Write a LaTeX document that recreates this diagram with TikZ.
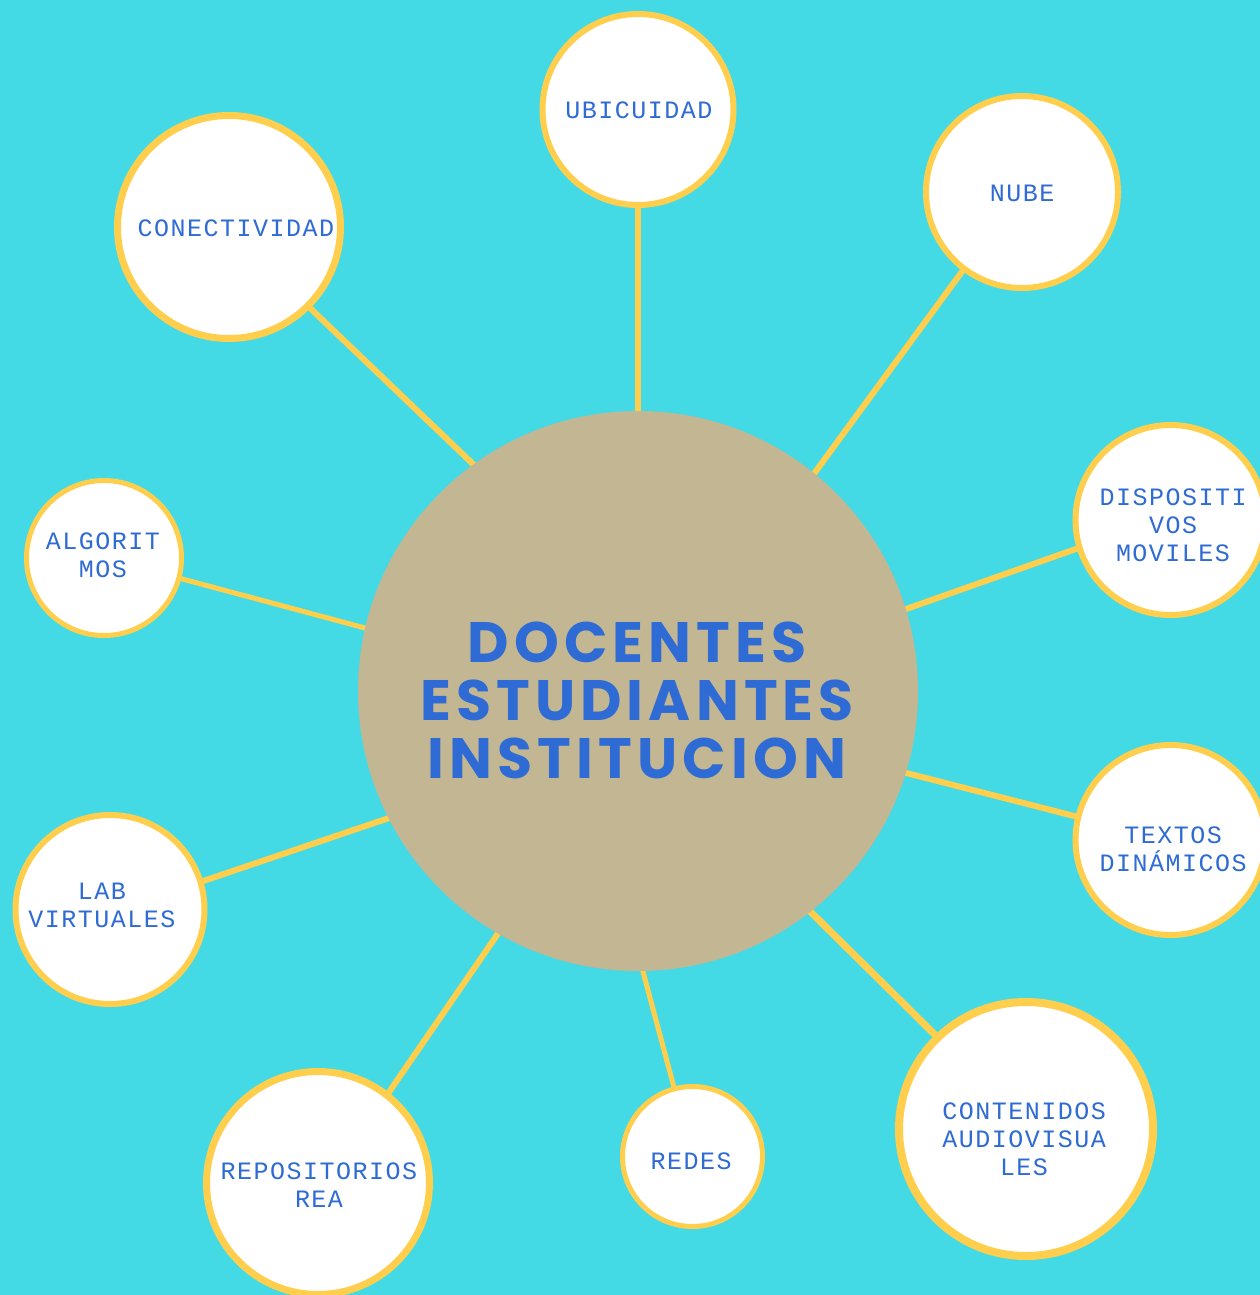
\documentclass[tikz,border=0pt]{standalone}
\usepackage{fontspec}
\newfontfamily\satfont[LetterSpace=6]{Liberation Mono}
\newfontfamily\cenfont[LetterSpace=9]{Poppins}
\definecolor{bgcyan}{HTML}{43DAE5}
\definecolor{ringyellow}{HTML}{FFCE4C}
\definecolor{hubtan}{HTML}{C2B693}
\definecolor{txtblue}{HTML}{2F6BD4}
\pgfdeclarelayer{bg}
\pgfdeclarelayer{lines}
\pgfsetlayers{bg,lines,main}
\begin{document}
\begin{tikzpicture}[x=1pt,y=-1pt,
  sat/.style={circle, draw=ringyellow, fill=white, inner sep=0pt},
  lbl/.style={text=txtblue, font=\satfont\fontsize{25}{28}\selectfont, align=center, inner sep=0pt},
  link/.style={draw=ringyellow, line width=6pt, shorten <=-4pt, shorten >=-4pt}]
\useasboundingbox (0,0) rectangle (1260,1295);
\begin{pgfonlayer}{bg}
\fill[bgcyan] (0,0) rectangle (1260,1295);
\end{pgfonlayer}

\node[circle, fill=hubtan, minimum size=560pt, inner sep=0pt] (hub) at (638,691) {};
\node[text=txtblue, font=\cenfont\bfseries\fontsize{57}{58}\selectfont, align=center, inner sep=0pt] (title) at (637,700) {DOCENTES\\ESTUDIANTES\\INSTITUCION};

\node[sat, line width=6pt, minimum size=191pt] (ubi) at (638,109.5) {};
\node[sat, line width=6pt, minimum size=192pt] (nube) at (1022,192) {};
\node[sat, line width=7pt, minimum size=223pt] (conec) at (229,227) {};
\node[sat, line width=5pt, minimum size=155pt] (algo) at (104,558) {};
\node[sat, line width=6pt, minimum size=190pt] (disp) at (1170.5,520) {};
\node[sat, line width=6pt, minimum size=190pt] (texto) at (1170.5,840) {};
\node[sat, line width=6pt, minimum size=189pt] (lab) at (110,909.5) {};
\node[sat, line width=7pt, minimum size=223pt] (repo) at (318,1183) {};
\node[sat, line width=5pt, minimum size=140pt] (redes) at (692.5,1156.5) {};
\node[sat, line width=8pt, minimum size=254pt] (cont) at (1026,1129) {};

\node[lbl] (tubi) at (639,110) {UBICUIDAD};
\node[lbl] (tnube) at (1022,193) {NUBE};
\node[lbl] (tconec) at (236,228) {CONECTIVIDAD};
\node[lbl] (talgo) at (103,555) {ALGORIT\\MOS};
\node[lbl] (tdisp) at (1173,525) {DISPOSITI\\VOS\\MOVILES};
\node[lbl] (ttexto) at (1173,849) {TEXTOS\\DINÁMICOS};
\node[lbl] (tlab) at (102,905) {LAB\\VIRTUALES};
\node[lbl] (trepo) at (319,1185) {REPOSITORIOS\\REA};
\node[lbl] (tredes) at (691,1161) {REDES};
\node[lbl] (tcont) at (1024,1139) {CONTENIDOS\\AUDIOVISUA\\LES};

\begin{pgfonlayer}{lines}
\draw[link] (hub.90) -- (ubi.270);
\draw[link] (hub.51.8) -- (nube.-127.6);
\draw[link] (hub.126.9) -- (conec.-45);
\draw[link, line width=5pt] (hub.167.4) -- (algo.-15.8);
\draw[link] (hub.17.4) -- (disp.197.9);
\draw[link] (hub.-17.6) -- (texto.166.5);
\draw[link, line width=7pt] (hub.-52.2) -- (cont.134);
\draw[link, line width=5pt] (hub.-89.2) -- (redes.105.4);
\draw[link] (hub.-120) -- (repo.52.9);
\draw[link] (hub.-153.3) -- (lab.17.9);
\end{pgfonlayer}
\end{tikzpicture}
\end{document}
